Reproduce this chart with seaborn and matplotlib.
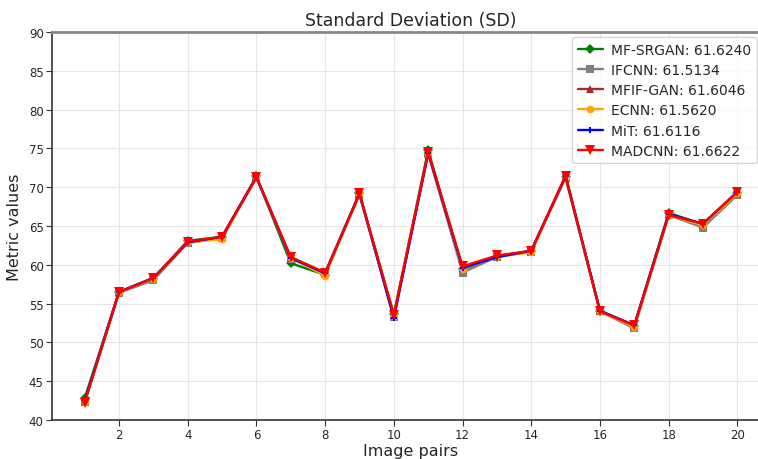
import numpy as np
import pandas as pd
import matplotlib
matplotlib.use("Agg")
import matplotlib.pyplot as plt
import seaborn as sns

sns.set_style("whitegrid")
plt.rcParams['font.family'] = ['DejaVu Sans']

pairs = list(range(1, 21))

mf_srgan = [42.8, 56.5, 58.2, 63.1, 63.6, 71.4, 60.2, 58.7, 69.2, 53.6, 74.8, 59.4, 61.0, 61.8, 71.3, 54.0, 52.1, 66.7, 65.2, 69.3]
ifcnn    = [42.3, 56.4, 58.0, 62.8, 63.5, 71.2, 60.8, 58.8, 69.0, 53.3, 74.3, 59.0, 61.0, 61.7, 71.2, 54.0, 51.8, 66.4, 64.8, 69.0]
mfif_gan = [42.4, 56.5, 58.3, 62.9, 63.6, 71.3, 60.9, 58.9, 69.1, 53.5, 74.5, 59.6, 61.1, 61.8, 71.4, 54.0, 52.2, 66.5, 65.2, 69.3]
ecnn     = [42.3, 56.5, 58.2, 62.9, 63.3, 71.3, 60.9, 58.6, 69.1, 53.4, 74.4, 59.5, 61.1, 61.6, 71.3, 54.0, 52.0, 66.4, 65.1, 69.2]
mit      = [42.4, 56.5, 58.3, 62.9, 63.6, 71.3, 60.9, 58.9, 69.2, 53.1, 74.4, 59.6, 61.0, 61.8, 71.4, 54.1, 52.2, 66.5, 65.3, 69.4]
madcnn   = [42.2, 56.5, 58.3, 63.0, 63.6, 71.3, 61.0, 59.0, 69.2, 53.5, 74.5, 59.8, 61.2, 61.8, 71.5, 54.0, 52.2, 66.4, 65.3, 69.4]

labels = ["MF-SRGAN: 61.6240", "IFCNN: 61.5134", "MFIF-GAN: 61.6046",
          "ECNN: 61.5620", "MiT: 61.6116", "MADCNN: 61.6622"]
series = [mf_srgan, ifcnn, mfif_gan, ecnn, mit, madcnn]
colors = ["green", "gray", "brown", "orange", "blue", "red"]
markers = ["D", "s", "^", "o", "P", "v"]
msizes = [5.5, 5.5, 5.5, 5.5, 5, 6.5]

fig = plt.figure(figsize=(7.58, 4.60), dpi=100)
ax = fig.add_axes([52 / 758, 39 / 460, 718 / 758, 388 / 460])

for vals, lab, c, m, ms in zip(series, labels, colors, markers, msizes):
    sns.lineplot(x=pairs, y=vals, ax=ax, label=lab, color=c, marker=m,
                 markersize=ms, linewidth=1.7, markeredgewidth=0)

ax.set_xlim(0.05, 20.95)
ax.set_ylim(40, 90)
ax.set_xticks(range(2, 21, 2))
ax.set_yticks(range(40, 91, 5))
ax.tick_params(axis='both', labelsize=8.5, length=4, pad=2, color="#333333", left=True, bottom=True)
ax.grid(True, color="#e6e6e6", linewidth=0.8)
for side in ["left", "bottom"]:
    ax.spines[side].set_color("#333333")
    ax.spines[side].set_linewidth(1.2)
ax.spines["top"].set_color("#888888")
ax.spines["top"].set_linewidth(2)
ax.spines["right"].set_visible(False)

ax.set_title("Standard Deviation (SD)", fontsize=12.5, pad=5)
ax.set_xlabel("Image pairs", fontsize=11.5, labelpad=1)
ax.set_ylabel("Metric values", fontsize=11.5, labelpad=5)

ax.legend(loc="upper right", bbox_to_anchor=(757 / 758, 1 - 38 / 460),
          bbox_transform=fig.transFigure, fontsize=10, frameon=True,
          borderaxespad=0, handlelength=1.8, labelspacing=0.45,
          borderpad=0.4, handletextpad=0.6)

fig.savefig("out.png", dpi=100)
